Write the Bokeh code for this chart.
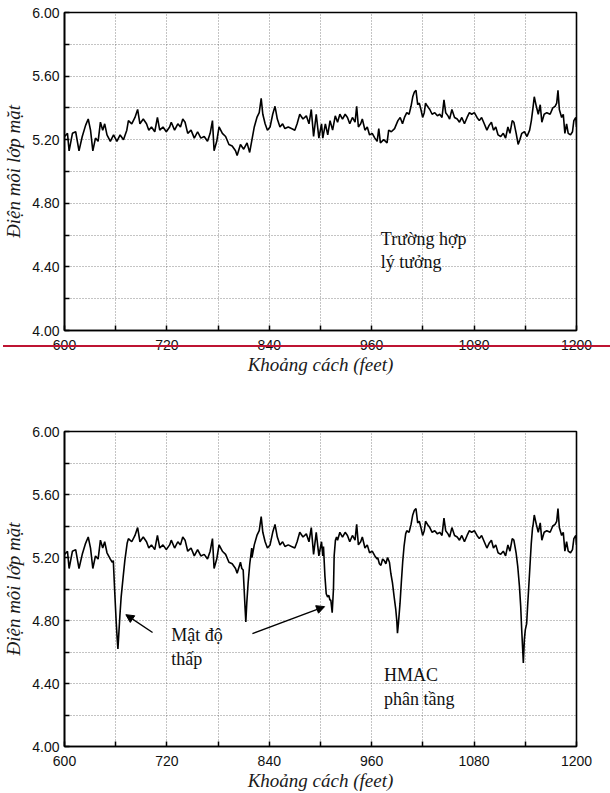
from bokeh.plotting import figure
from bokeh.models import FixedTicker, Label, Arrow, NormalHead, Range1d, PrintfTickFormatter, Div
from bokeh.layouts import column
from bokeh.embed import file_html
from bokeh.resources import INLINE

# ---------------- data ----------------
x_major = [600, 720, 840, 960, 1080, 1200]
x_minor = [660, 780, 900, 1020, 1140]
y_major = [4.0, 4.4, 4.8, 5.2, 5.6, 6.0]
y_minor = [4.2, 4.6, 5.0, 5.4, 5.8]

x_title = "Khoảng cách (feet)"
y_title = "Điện môi lớp mặt"

# ideal case trace (distance in feet, surface dielectric)
base_ft = [
    600.0, 603.5, 605.4, 609.3, 613.1, 617.0, 620.8, 624.7, 627.8, 630.5,
    633.2, 636.3, 639.4, 642.1, 644.8, 647.1, 649.8, 653.7, 657.5, 661.4,
    665.2, 669.1, 673.0, 674.9, 678.8, 682.6, 685.7, 688.4, 692.3, 696.1,
    698.8, 701.9, 705.8, 708.9, 711.6, 715.4, 719.3, 723.2, 725.1, 729.0,
    732.8, 735.9, 738.6, 741.3, 744.4, 748.3, 752.1, 756.0, 759.8, 763.7,
    767.6, 770.7, 773.4, 775.3, 778.4, 781.1, 785.0, 788.8, 792.7, 796.5,
    800.4, 802.3, 806.2, 810.0, 813.9, 817.0, 819.7, 822.4, 825.5, 828.2,
    830.5, 832.4, 835.1, 837.8, 840.9, 844.0, 846.7, 849.4, 852.5, 855.6,
    858.3, 862.2, 866.0, 869.9, 872.6, 875.7, 879.5, 883.4, 886.5, 889.2,
    891.9, 895.0, 898.1, 901.2, 902.7, 905.7, 908.5, 911.2, 914.2, 917.3,
    920.0, 922.7, 925.8, 928.9, 931.6, 934.3, 937.4, 940.5, 942.4, 944.4,
    947.1, 949.0, 952.1, 954.8, 957.5, 960.6, 963.7, 966.4, 968.3, 970.2,
    974.1, 978.0, 979.9, 983.0, 986.8, 990.7, 993.4, 996.1, 998.4, 1001.1,
    1003.8, 1006.1, 1008.1, 1010.0, 1011.9, 1013.9, 1015.8, 1017.7, 1019.7, 1021.6,
    1023.1, 1025.4, 1028.1, 1030.8, 1033.9, 1037.0, 1039.7, 1042.4, 1044.7, 1046.7,
    1049.4, 1051.3, 1054.0, 1057.1, 1060.2, 1062.9, 1065.6, 1068.7, 1071.8, 1074.5,
    1077.2, 1080.3, 1083.4, 1086.1, 1088.8, 1091.9, 1095.0, 1097.6, 1100.3, 1102.7,
    1105.4, 1108.1, 1111.2, 1114.2, 1116.9, 1119.6, 1122.0, 1124.7, 1126.6, 1129.3,
    1131.6, 1133.6, 1135.9, 1139.0, 1142.0, 1145.1, 1147.1, 1149.0, 1150.5, 1152.9,
    1155.2, 1157.5, 1159.4, 1162.1, 1165.2, 1169.1, 1172.2, 1174.9, 1176.8, 1178.3,
    1179.9, 1182.6, 1184.5, 1186.4, 1188.4, 1190.3, 1193.0, 1195.3, 1196.9, 1199.2, 1200.0,
]
base_val = [
    5.22, 5.24, 5.13, 5.24, 5.25, 5.13, 5.22, 5.29, 5.33, 5.26,
    5.13, 5.21, 5.19, 5.31, 5.26, 5.30, 5.23, 5.19, 5.23, 5.19,
    5.23, 5.20, 5.26, 5.32, 5.30, 5.34, 5.39, 5.30, 5.33, 5.30,
    5.26, 5.28, 5.25, 5.34, 5.26, 5.28, 5.25, 5.28, 5.31, 5.26,
    5.30, 5.28, 5.33, 5.31, 5.24, 5.26, 5.21, 5.25, 5.21, 5.22,
    5.19, 5.24, 5.32, 5.13, 5.19, 5.28, 5.24, 5.22, 5.17, 5.16,
    5.13, 5.10, 5.17, 5.14, 5.18, 5.12, 5.20, 5.28, 5.34, 5.37,
    5.46, 5.36, 5.30, 5.26, 5.28, 5.36, 5.41, 5.33, 5.28, 5.30,
    5.27, 5.28, 5.27, 5.26, 5.30, 5.36, 5.33, 5.35, 5.30, 5.39,
    5.22, 5.36, 5.21, 5.30, 5.21, 5.30, 5.23, 5.32, 5.26, 5.35,
    5.31, 5.36, 5.33, 5.36, 5.34, 5.30, 5.34, 5.31, 5.41, 5.28,
    5.30, 5.33, 5.26, 5.28, 5.23, 5.24, 5.21, 5.19, 5.27, 5.18,
    5.20, 5.18, 5.26, 5.25, 5.27, 5.32, 5.34, 5.30, 5.34, 5.37,
    5.36, 5.41, 5.47, 5.50, 5.51, 5.42, 5.43, 5.39, 5.34, 5.37,
    5.43, 5.41, 5.39, 5.36, 5.37, 5.35, 5.36, 5.34, 5.45, 5.37,
    5.35, 5.33, 5.39, 5.34, 5.33, 5.31, 5.34, 5.30, 5.34, 5.37,
    5.36, 5.37, 5.34, 5.32, 5.34, 5.30, 5.26, 5.29, 5.31, 5.26,
    5.28, 5.23, 5.22, 5.24, 5.21, 5.28, 5.24, 5.32, 5.31, 5.24,
    5.17, 5.20, 5.24, 5.25, 5.22, 5.26, 5.32, 5.40, 5.47, 5.41,
    5.36, 5.42, 5.31, 5.36, 5.37, 5.36, 5.40, 5.41, 5.43, 5.51,
    5.39, 5.34, 5.36, 5.24, 5.30, 5.24, 5.23, 5.25, 5.32, 5.34, 5.28,
]

# dips seen in the lower (segregated HMAC) trace
dip1_ft = [656.0, 657.2, 658.7, 660.6, 661.8, 662.6, 663.7, 664.9, 666.4, 668.8, 670.7, 673.4]
dip1_val = [5.17, 5.18, 5.00, 4.79, 4.68, 4.62, 4.72, 4.83, 4.95, 5.08, 5.18, 5.29]
dip2_ft = [807.8, 809.4, 810.5, 811.7, 812.5, 813.6, 815.2, 817.1, 819.4]
dip2_val = [5.13, 5.12, 5.00, 4.87, 4.79, 4.91, 5.04, 5.16, 5.26]
dip3_ft = [903.5, 905.2, 906.7, 908.3, 909.8, 911.0, 912.1, 913.7, 915.2, 916.0, 917.5, 918.8]
dip3_val = [5.27, 5.08, 4.97, 4.95, 4.96, 4.93, 4.93, 4.85, 5.00, 5.21, 5.31, 5.33]
dip4_ft = [967.0, 969.0, 970.8, 972.8, 974.7, 976.6, 978.6, 980.8, 982.4, 984.3, 986.3,
           988.2, 989.4, 990.2, 991.3, 993.2, 994.7, 996.3, 997.9, 999.8]
dip4_val = [5.20, 5.16, 5.15, 5.19, 5.18, 5.16, 5.20, 5.17, 5.10, 5.04, 4.95,
            4.87, 4.80, 4.72, 4.78, 4.91, 5.04, 5.17, 5.27, 5.35]
dip5_ft = [1129.2, 1131.2, 1133.1, 1134.6, 1135.8, 1136.9, 1137.7, 1138.9, 1140.0, 1141.6,
           1142.7, 1143.9, 1145.4, 1147.0, 1148.5]
dip5_val = [5.23, 5.14, 5.02, 4.89, 4.74, 4.62, 4.53, 4.68, 4.74, 4.78,
            4.89, 5.00, 5.14, 5.29, 5.39]

dips = [(dip1_ft, dip1_val), (dip2_ft, dip2_val), (dip3_ft, dip3_val),
        (dip4_ft, dip4_val), (dip5_ft, dip5_val)]

# lower trace: the upper trace with the dip segments in place
pts = [(f, v) for f, v in zip(base_ft, base_val)
       if not any(d[0][0] <= f <= d[0][-1] for d in dips)]
for dft, dval in dips:
    pts += list(zip(dft, dval))
pts.sort()
seg_ft = [p[0] for p in pts]
seg_val = [p[1] for p in pts]

# ---------------- styling ----------------
TICK_FONT = "Liberation Sans"
SERIF = "Liberation Serif"


def make_fig(height, top, bottom, left, right):
    p = figure(width=610, height=height, x_range=Range1d(600, 1200), y_range=Range1d(4.0, 6.0),
               output_backend="svg", toolbar_location=None,
               min_border_left=left, min_border_right=right,
               min_border_top=top, min_border_bottom=bottom)
    p.background_fill_color = "white"
    p.border_fill_color = "white"
    p.outline_line_color = "black"
    p.outline_line_width = 1.6
    p.outline_line_alpha = 1.0

    p.xaxis.ticker = FixedTicker(ticks=x_major, minor_ticks=x_minor)
    p.yaxis.ticker = FixedTicker(ticks=y_major, minor_ticks=y_minor)
    p.yaxis.formatter = PrintfTickFormatter(format="%.2f")
    p.xaxis.formatter = PrintfTickFormatter(format="%d")
    p.xgrid.ticker = FixedTicker(ticks=x_major + x_minor)
    p.ygrid.ticker = FixedTicker(ticks=y_major + y_minor)
    for g in (p.xgrid, p.ygrid):
        g.grid_line_color = "#555555"
        g.grid_line_dash = "1 2"
        g.grid_line_width = 1
        g.grid_line_alpha = 0.7

    for ax in (p.xaxis, p.yaxis):
        ax.axis_line_color = "black"
        ax.axis_line_width = 1.6
        ax.major_tick_in = 5
        ax.major_tick_out = 0
        ax.minor_tick_in = 5
        ax.minor_tick_out = 0
        ax.major_tick_line_color = "black"
        ax.minor_tick_line_color = "black"
        ax.major_tick_line_width = 1.5
        ax.minor_tick_line_width = 1.5
        ax.major_label_text_font = TICK_FONT
        ax.major_label_text_font_size = "14px"
        ax.major_label_text_color = "#111111"
        ax.axis_label_text_font = SERIF
        ax.axis_label_text_font_style = "italic"
        ax.axis_label_text_font_size = "19px"
        ax.axis_label_text_color = "#1a1a1a"
    p.xaxis.axis_label = x_title
    p.yaxis.axis_label = y_title
    p.xaxis.major_label_standoff = 9
    p.yaxis.major_label_standoff = 5
    p.xaxis.axis_label_standoff = 1
    p.yaxis.axis_label_standoff = 5
    return p


def add_text(p, x, y, txt):
    p.add_layout(Label(x=x, y=y, text=txt, text_font=SERIF, text_font_size="18px",
                       text_color="#111111", text_baseline="alphabetic", text_align="left"))


# ---------------- upper chart ----------------
p1 = make_fig(380, 12, 50, 60, 32)
p1.line(base_ft, base_val, line_color="black", line_width=1.6)
add_text(p1, 970.7, 4.577, "Trường hợp")
add_text(p1, 970.7, 4.430, "lý tưởng")

# ---------------- lower chart ----------------
p2 = make_fig(413, 51, 46, 58, 34)
p2.line(seg_ft, seg_val, line_color="black", line_width=1.6)
add_text(p2, 725.0, 4.705, "Mật độ")
add_text(p2, 725.0, 4.558, "thấp")
add_text(p2, 974.4, 4.452, "HMAC")
add_text(p2, 974.4, 4.300, "phân tầng")
p2.add_layout(Arrow(end=NormalHead(size=8, fill_color="black", line_color="black"),
                    x_start=703.2, y_start=4.724, x_end=671.9, y_end=4.837,
                    line_color="black", line_width=1.4))
p2.add_layout(Arrow(end=NormalHead(size=8, fill_color="black", line_color="black"),
                    x_start=820.2, y_start=4.717, x_end=904.8, y_end=4.888,
                    line_color="black", line_width=1.4))

# red separator line drawn across the page over the upper x tick labels
rule = Div(text="", width=607, height=2,
           styles={"position": "absolute", "top": "345px", "left": "3px",
                   "width": "607px", "height": "2px", "background-color": "#be1432",
                   "z-index": "20", "margin": "0", "padding": "0"})

layout = column(p1, p2, rule, spacing=0)
open("out.html", "w").write(file_html(layout, INLINE))
